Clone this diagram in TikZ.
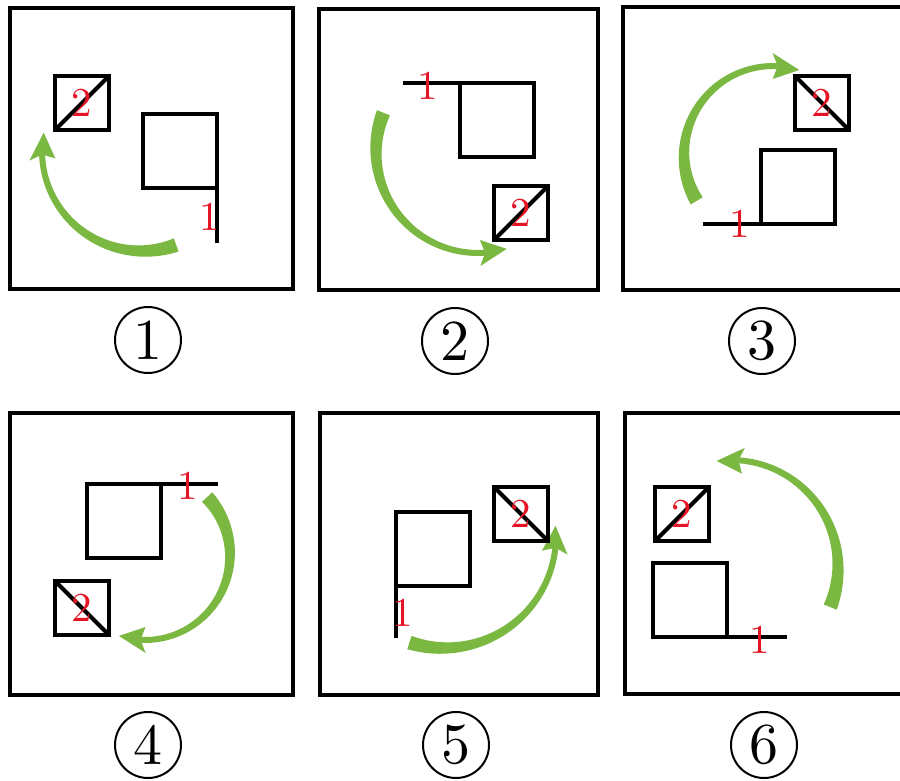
\documentclass[tikz,border=0pt]{standalone}
\usepackage{graphicx}
\usetikzlibrary{positioning}
\definecolor{FlagGreen}{RGB}{122,184,66}
\definecolor{MarkRed}{RGB}{228,20,36}
\tikzset{
  panel/.style    = {draw, line width=3.5pt},
  bigsq/.style    = {draw, line width=4pt, minimum size=74pt,
                     inner sep=0pt, outer sep=0pt},
  smallsq/.style  = {draw, line width=4pt, minimum size=54pt,
                     inner sep=0pt, outer sep=0pt},
  stroke/.style   = {line width=4pt},
  numlab/.style   = {text=MarkRed, inner sep=0pt, font=\normalsize},
  capt/.style     = {draw, circle, line width=2pt, minimum size=66pt,
                     inner sep=0pt, font=\normalsize},
  turnfill/.style = {fill=FlagGreen}
}
\newcommand{\redno}[1]{\scalebox{4.1}{#1}}
\newcommand{\capno}[1]{\scalebox{5.8}{#1}}
% centre x, centre y, radius, tail angle, head angle
\newcommand{\turnarrow}[5]{%
  \pgfmathsetmacro{\arrsgn}{sign(#5-(#4))}%
  \pgfmathsetmacro{\arrtip}{#5+\arrsgn*22/#3*180/pi}%
  \pgfmathsetmacro{\arrbarb}{#5-\arrsgn*5/#3*180/pi}%
  \fill[turnfill] plot[domain=#4:#5, samples=40, variable=\t]
      ({#1+(#3+(6+8*(1-(\t-(#4))/(#5-(#4)))^2)/2)*cos(\t)},
       {#2+(#3+(6+8*(1-(\t-(#4))/(#5-(#4)))^2)/2)*sin(\t)})
    -- plot[domain=#5:#4, samples=40, variable=\t]
      ({#1+(#3-(6+8*(1-(\t-(#4))/(#5-(#4)))^2)/2)*cos(\t)},
       {#2+(#3-(6+8*(1-(\t-(#4))/(#5-(#4)))^2)/2)*sin(\t)})
    -- cycle;
  \fill[turnfill] ({#1+#3*cos(#5)},{#2+#3*sin(#5)})
    -- ({#1+(#3+13)*cos(\arrbarb)},{#2+(#3+13)*sin(\arrbarb)})
    -- ({#1+#3*cos(\arrtip)},{#2+#3*sin(\arrtip)})
    -- ({#1+(#3-13)*cos(\arrbarb)},{#2+(#3-13)*sin(\arrbarb)}) -- cycle;
}

\begin{document}
\begin{tikzpicture}[x=1pt, y=-1pt]
\useasboundingbox (0,0) rectangle (900,780);
\clip (0,0) rectangle (900,780);

\draw[panel] (10,8) rectangle (293,289);
\turnarrow{142}{151}{100}{70}{178}
\node[bigsq] (big1) at (180,151) {};
\node[smallsq] (small1) at (82,103) {};
\draw[stroke] (small1.south west) -- (small1.north east);
\draw[stroke] (big1.south east) -- ++(0,55) coordinate (end1);
\node[numlab] (one1) at (210,217) {\redno{1}};
\node[numlab] (two1) at (small1) {\redno{2}};
\node[capt] (cap1) at (148,340) {\capno{1}};

\draw[panel] (319,9) rectangle (598,290);
\turnarrow{478}{151}{102}{202}{86}
\node[bigsq] (big2) at (497,120) {};
\node[smallsq] (small2) at (521,213) {};
\draw[stroke] (small2.south west) -- (small2.north east);
\draw[stroke] (big2.north west) -- ++(-57,0) coordinate (end2);
\node[numlab] (one2) at (428,86) {\redno{1}};
\node[numlab] (two2) at (small2) {\redno{2}};
\node[capt] (cap2) at (455,341) {\capno{2}};

\draw[panel] (623,7) rectangle (905,290);
\turnarrow{773}{155}{89}{149}{273}
\node[bigsq] (big3) at (798,187) {};
\node[smallsq] (small3) at (822,103) {};
\draw[stroke] (small3.north west) -- (small3.south east);
\draw[stroke] (big3.south west) -- ++(-58,0) coordinate (end3);
\node[numlab] (one3) at (740,224) {\redno{1}};
\node[numlab] (two3) at (small3) {\redno{2}};
\node[capt] (cap3) at (762,341) {\capno{3}};

\draw[panel] (10,413) rectangle (293,695);
\turnarrow{145}{555}{85}{-43}{93}
\node[bigsq] (big4) at (124,521) {};
\node[smallsq] (small4) at (82,608) {};
\draw[stroke] (small4.north west) -- (small4.south east);
\draw[stroke] (big4.north east) -- ++(57,0) coordinate (end4);
\node[numlab] (one4) at (188,486) {\redno{1}};
\node[numlab] (two4) at (small4) {\redno{2}};
\node[capt] (cap4) at (148,745) {\capno{4}};

\draw[panel] (320,413) rectangle (598,695);
\turnarrow{444}{536}{112}{108}{6}
\node[bigsq] (big5) at (433,549) {};
\node[smallsq] (small5) at (521,514) {};
\draw[stroke] (small5.north west) -- (small5.south east);
\draw[stroke] (big5.south west) -- ++(0,52) coordinate (end5);
\node[numlab] (one5) at (403,613) {\redno{1}};
\node[numlab] (two5) at (small5) {\redno{2}};
\node[capt] (cap5) at (456,745) {\capno{5}};

\draw[panel] (625,413) rectangle (905,694);
\turnarrow{731}{567}{107}{22}{-86}
\node[bigsq] (big6) at (690,600) {};
\node[smallsq] (small6) at (682,514) {};
\draw[stroke] (small6.south west) -- (small6.north east);
\draw[stroke] (big6.south east) -- ++(60,0) coordinate (end6);
\node[numlab] (one6) at (760,640) {\redno{1}};
\node[numlab] (two6) at (small6) {\redno{2}};
\node[capt] (cap6) at (764,745) {\capno{6}};
\end{tikzpicture}
\end{document}
